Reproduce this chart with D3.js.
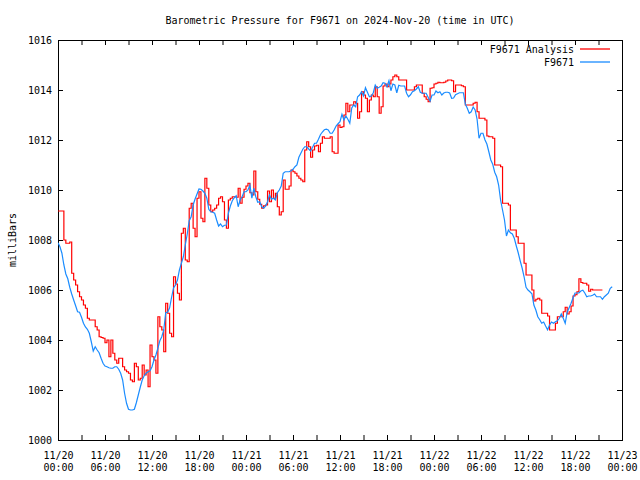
<!DOCTYPE html>
<html><head><meta charset="utf-8">
<script src="https://cdn.jsdelivr.net/npm/d3@7"></script>
<style>
body{margin:0;background:#fff}
svg{display:block;background:#fff}
text{font-family:"DejaVu Sans Mono","Liberation Mono",monospace;font-size:10px;fill:#000}
</style>
</head><body>
<svg id="c" width="640" height="480"></svg>
<script>
const title = "Barometric Pressure for F9671 on 2024-Nov-20 (time in UTC)";
const yLabel = "milliBars";
const seriesNames = ["F9671 Analysis", "F9671"];
const seriesColors = ["#ff0000", "#1a8cff"];
const startTime = Date.UTC(2024, 10, 20, 0, 0);
const stepMinutes = 15;
const xDomain = [Date.UTC(2024, 10, 20, 0, 0), Date.UTC(2024, 10, 23, 0, 0)];
const yTicks = [1000, 1002, 1004, 1006, 1008, 1010, 1012, 1014, 1016];

// F9671 Analysis, one value every 15 min from 11/20 00:00 (each row = 2 hours)
const analysis = [
1009.16,1009.16,1009.16,1008.0,1007.87,1007.87,1007.92,1006.67,
1006.4,1006.2,1005.93,1005.73,1005.6,1005.4,1005.27,1004.87,
1004.8,1004.8,1004.8,1004.53,1004.4,1004.13,1004.1,1004.07,
1003.89,1004.0,1003.33,1004.0,1003.47,1003.2,1003.07,1003.27,
1003.27,1002.93,1002.8,1002.73,1002.67,1002.4,1002.33,1003.07,
1002.93,1002.4,1002.47,1003.0,1002.6,1002.8,1002.13,1003.8,
1003.33,1003.2,1002.67,1004.93,1004.53,1004.4,1003.53,1005.47,
1005.07,1004.27,1004.13,1006.53,1006.24,1005.87,1005.6,1008.27,
1008.47,1007.2,1007.13,1009.27,1009.47,1008.47,1008.13,1009.67,
1009.93,1008.87,1008.73,1010.47,1010.07,1009.4,1009.13,1009.2,
1009.27,1009.4,1009.67,1009.73,1009.53,1008.8,1008.47,1009.6,
1009.67,1009.73,1009.73,1009.71,1010.07,1009.47,1009.71,1010.03,
1010.16,1010.27,1009.89,1009.8,1010.76,1009.93,1009.63,1009.43,
1009.27,1009.37,1009.4,1009.96,1009.53,1010.0,1009.67,1009.87,
1009.33,1009.0,1009.13,1010.4,1010.03,1010.03,1010.16,1010.8,
1010.73,1010.67,1010.56,1010.47,1010.4,1010.33,1011.6,1011.93,
1011.73,1011.31,1011.6,1011.76,1011.79,1011.53,1011.87,1012.13,
1012.07,1012.07,1012.07,1012.13,1011.53,1011.47,1011.47,1012.6,
1012.5,1012.53,1013.0,1013.47,1013.13,1013.4,1013.4,1013.53,
1013.47,1012.87,1013.13,1013.93,1013.8,1013.67,1013.13,1013.6,
1013.8,1013.73,1014.13,1013.73,1013.07,1013.33,1014.16,1014.24,
1014.13,1014.24,1014.4,1014.53,1014.6,1014.53,1014.4,1014.4,
1014.4,1014.4,1014.0,1014.0,1014.0,1014.0,1014.13,1014.2,
1014.2,1014.2,1013.87,1013.73,1013.63,1013.53,1014.07,1014.09,
1014.24,1014.27,1014.31,1014.29,1014.29,1014.31,1014.36,1014.4,
1014.4,1014.37,1013.93,1014.2,1014.2,1014.2,1014.17,1014.13,
1013.4,1013.4,1013.4,1013.4,1013.47,1013.51,1013.13,1012.87,
1012.87,1012.87,1012.8,1012.16,1012.13,1012.13,1012.07,1011.0,
1011.0,1011.0,1010.93,1009.47,1009.47,1009.47,1009.4,1008.4,
1008.4,1008.4,1008.13,1007.87,1007.87,1007.87,1007.07,1006.6,
1006.6,1006.6,1006.0,1005.56,1005.63,1005.67,1005.6,1005.07,
1005.07,1005.07,1004.96,1004.4,1004.4,1004.4,1004.67,1004.93,
1004.93,1004.93,1005.13,1005.31,1005.04,1005.13,1005.36,1005.76,
1005.81,1005.93,1006.45,1006.3,1006.27,1006.27,1006.2,1005.95,
1006.03,1006.0,1006.0,1006.0,1006.0,1006.0,1006.0
];

// F9671 station, one value every 15 min from 11/20 00:00 (each row = 2 hours)
const station = [
1007.89,1007.73,1007.47,1007.0,1006.64,1006.45,1006.11,1005.84,
1005.6,1005.37,1005.13,1005.11,1004.91,1004.67,1004.52,1004.43,
1004.27,1003.93,1003.56,1003.73,1003.6,1003.49,1003.27,1003.07,
1002.96,1002.93,1002.89,1002.87,1002.87,1002.93,1002.93,1002.83,
1002.67,1002.4,1001.87,1001.47,1001.23,1001.2,1001.2,1001.23,
1001.49,1001.8,1002.11,1002.4,1002.57,1002.67,1002.73,1002.77,
1002.93,1003.2,1003.4,1003.67,1003.97,1004.13,1004.4,1005.09,
1005.12,1005.29,1005.71,1006.08,1006.2,1006.4,1006.8,1007.07,
1007.33,1007.8,1008.24,1008.77,1008.93,1009.4,1009.64,1009.84,
1010.04,1010.03,1009.96,1009.87,1009.67,1009.23,1009.13,1009.11,
1009.07,1008.8,1008.56,1008.64,1008.53,1008.59,1008.6,1009.07,
1009.36,1009.57,1009.69,1009.77,1009.33,1009.6,1009.73,1009.93,
1009.93,1010.0,1010.2,1009.67,1010.07,1009.73,1009.51,1009.53,
1009.33,1009.27,1009.35,1009.53,1009.8,1009.63,1009.67,1009.6,
1009.89,1010.0,1010.16,1010.67,1010.73,1010.73,1010.73,1010.77,
1010.83,1010.93,1011.0,1011.31,1011.47,1011.63,1011.73,1011.73,
1011.64,1011.56,1011.71,1011.87,1011.87,1012.03,1012.21,1012.32,
1012.41,1012.43,1012.4,1012.27,1012.27,1012.4,1012.56,1012.65,
1012.73,1013.03,1012.8,1012.96,1012.83,1012.67,1013.28,1013.4,
1013.33,1013.73,1013.8,1013.93,1013.76,1014.09,1013.91,1013.73,
1013.76,1013.89,1014.2,1014.07,1014.11,1014.16,1014.29,1014.27,
1014.13,1014.37,1013.97,1014.24,1014.2,1013.89,1014.19,1014.16,
1014.16,1014.16,1013.87,1013.73,1013.81,1013.93,1013.97,1014.04,
1014.13,1013.91,1013.87,1013.87,1013.87,1013.71,1013.55,1013.8,
1013.8,1013.96,1013.89,1013.93,1013.8,1013.88,1013.91,1013.91,
1013.88,1013.67,1013.68,1013.81,1013.85,1013.89,1013.89,1013.89,
1013.44,1013.27,1013.07,1013.13,1013.32,1013.2,1012.83,1012.07,
1012.27,1012.27,1012.01,1011.84,1011.53,1011.2,1011.03,1010.71,
1010.53,1010.2,1009.6,1009.2,1008.8,1008.16,1008.4,1008.29,
1008.24,1008.07,1007.77,1007.49,1007.17,1006.88,1006.53,1006.11,
1006.0,1005.93,1005.85,1005.4,1005.2,1004.93,1004.81,1004.67,
1004.72,1004.56,1004.41,1004.6,1004.72,1004.67,1004.73,1004.77,
1004.87,1005.04,1004.87,1004.67,1005.11,1005.29,1005.47,1005.69,
1005.88,1005.88,1005.88,1005.96,1005.99,1005.88,1005.73,1005.76,
1005.76,1005.79,1005.84,1005.73,1005.73,1005.73,1005.63,1005.73,
1005.8,1005.87,1006.07,1006.13
];

const W = 640, H = 480;
const L = 58, R = 622, T = 40, B = 440;
const svg = d3.select("#c");
svg.append("rect").attr("width", W).attr("height", H).attr("fill", "#fff");

const x = d3.scaleUtc().domain(xDomain).range([L, R]);
const y = d3.scaleLinear().domain([yTicks[0], yTicks[yTicks.length - 1]]).range([B, T]);

const toPoints = arr => arr.map((v, i) => ({t: new Date(startTime + i * stepMinutes * 60000), v}));

svg.append("clipPath").attr("id", "clip").append("rect")
  .attr("x", L).attr("y", T).attr("width", R - L).attr("height", B - T);

const tickLen = 5;
const fmtDay = d3.utcFormat("%m/%d"), fmtHM = d3.utcFormat("%H:%M");

// left axis
const gl = svg.append("g").attr("transform", `translate(${L},0)`)
  .call(d3.axisLeft(y).tickValues(yTicks).tickSizeInner(-tickLen).tickSizeOuter(0).tickPadding(6).tickFormat(d3.format("d")));
gl.select(".domain").remove();
gl.selectAll("text").attr("font-family", null).attr("font-size", null);

// right axis (mirror ticks)
const gr = svg.append("g").attr("transform", `translate(${R},0)`)
  .call(d3.axisRight(y).tickValues(yTicks).tickSizeInner(-tickLen).tickSizeOuter(0).tickFormat(""));
gr.select(".domain").remove();

// top axis (mirror ticks)
const gt = svg.append("g").attr("transform", `translate(0,${T})`)
  .call(d3.axisTop(x).ticks(d3.utcHour.every(3)).tickSizeInner(-tickLen).tickSizeOuter(0).tickFormat(""));
gt.select(".domain").remove();

// bottom axis
const gb = svg.append("g").attr("transform", `translate(0,${B})`)
  .call(d3.axisBottom(x).ticks(d3.utcHour.every(3)).tickSizeInner(-tickLen).tickSizeOuter(0).tickFormat(""));
gb.select(".domain").remove();
gb.selectAll(".tick").each(function(d) {
  const g = d3.select(this);
  g.select("text").remove();
  if (d.getUTCHours() % 6 === 0) {
    const t = g.append("text").attr("text-anchor", "middle");
    t.append("tspan").attr("x", 0).attr("y", 18.5).text(fmtDay(d));
    t.append("tspan").attr("x", 0).attr("y", 30.5).text(fmtHM(d));
  }
});
svg.selectAll(".tick line").attr("stroke", "#000");

// frame
svg.append("rect").attr("x", L + 0.5).attr("y", T + 0.5).attr("width", R - L).attr("height", B - T)
  .attr("fill", "none").attr("stroke", "#000").attr("stroke-width", 1).attr("shape-rendering", "crispEdges");

// lines
const lineStep = d3.line().x(d => x(d.t)).y(d => y(d.v)).curve(d3.curveStepAfter);
const lineLin = d3.line().x(d => x(d.t)).y(d => y(d.v));
const gLines = svg.append("g").attr("clip-path", "url(#clip)");
gLines.append("path").datum(toPoints(analysis)).attr("d", lineStep)
  .attr("fill", "none").attr("stroke", seriesColors[0]).attr("stroke-width", 1.2);
gLines.append("path").datum(toPoints(station)).attr("d", lineLin)
  .attr("fill", "none").attr("stroke", seriesColors[1]).attr("stroke-width", 1.2);

// title
svg.append("text").attr("x", (L + R) / 2).attr("y", 23.5).attr("text-anchor", "middle").text(title);

// y label
svg.append("text").attr("transform", "translate(15.5,240) rotate(-90)").attr("text-anchor", "middle").text(yLabel);

// legend
seriesNames.forEach((name, i) => {
  const cy = 49 + i * 13;
  svg.append("text").attr("x", 574).attr("y", cy + 3.5).attr("text-anchor", "end").text(name);
  svg.append("line").attr("x1", 580).attr("x2", 610).attr("y1", cy).attr("y2", cy)
    .attr("stroke", seriesColors[i]).attr("stroke-width", 1.3);
});
</script>
</body></html>
